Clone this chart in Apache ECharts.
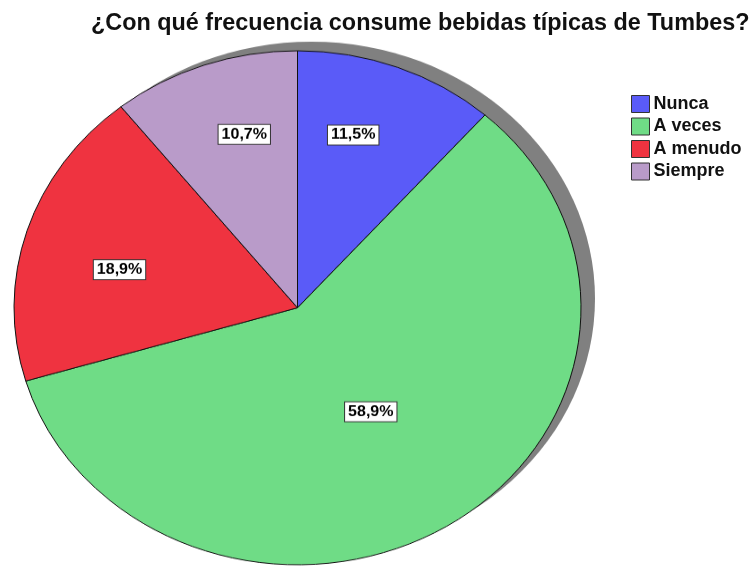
<!DOCTYPE html>
<html>
<head>
<meta charset="utf-8">
<script src="https://cdn.jsdelivr.net/npm/echarts@6/dist/echarts.min.js"></script>
<style>
  html, body { margin: 0; padding: 0; background: #fff; }
  #wrap { position: relative; width: 753px; height: 567px; overflow: hidden; }
  /* the reference pie is an ellipse, so the pie chart is squeezed vertically */
  #pie { position: absolute; left: 0; top: 0; width: 753px; height: 626px;
         transform: scaleY(0.9065); transform-origin: 0 0; }
  #top { position: absolute; left: 0; top: 0; width: 753px; height: 567px; }
</style>
</head>
<body>
<div id="wrap">
  <div id="pie"></div>
  <div id="top"></div>
</div>
<script>
const categories = ['Nunca', 'A veces', 'A menudo', 'Siempre']
const percents = [11.5, 58.9, 18.9, 10.7]
const colors = ['#5a5bf8', '#6fdc86', '#ef3340', '#b99bc9']
// label placement: share of the radius, and turn (deg) away from mid-angle
const labelReach = [0.70, 0.48, 0.645, 0.70]
const labelTurn = [-4.4, 0, -4.2, 3.7]

const font = "'Liberation Sans', Arial, sans-serif"
const cx = 297.5
const cy = 339.5
const radius = 283.5

const fmt = v => v.toFixed(1).replace('.', ',') + '%'

const pieData = categories.map((name, i) => ({
  name: name,
  value: percents[i],
  itemStyle: { color: colors[i] }
}))

const pieChart = echarts.init(document.getElementById('pie'), null, { renderer: 'canvas' })
pieChart.setOption({
  animation: false,
  series: [
    {
      // grey drop shadow behind the pie
      type: 'pie',
      silent: true,
      center: [cx + 14, cy - 10],
      radius: radius,
      label: { show: false },
      labelLine: { show: false },
      itemStyle: { color: '#808080', borderWidth: 0 },
      data: [{ name: 'shadow', value: 1 }]
    },
    {
      type: 'pie',
      center: [cx, cy],
      radius: radius,
      startAngle: 90,
      clockwise: true,
      itemStyle: { borderColor: '#111', borderWidth: 1 },
      label: {
        show: true,
        position: 'inside',
        formatter: p => fmt(p.value),
        fontFamily: font,
        fontWeight: 'bold',
        fontSize: 16,
        lineHeight: 18,
        color: '#000',
        backgroundColor: '#fff',
        borderColor: '#333',
        borderWidth: 1,
        padding: [2, 3, 1, 3]
      },
      labelLine: { show: false },
      labelLayout: params => {
        const r = params.labelRect
        const lx = r.x + r.width / 2
        const ly = r.y + r.height / 2
        const i = params.dataIndex
        const theta = Math.atan2(lx - cx, -(ly - cy)) + labelTurn[i] * Math.PI / 180
        const dist = labelReach[i] * radius
        const nx = cx + dist * Math.sin(theta)
        const ny = cy - dist * Math.cos(theta)
        return { dx: nx - lx, dy: ny - ly }
      },
      data: pieData
    }
  ]
})

const topChart = echarts.init(document.getElementById('top'), null, { renderer: 'canvas' })
topChart.setOption({
  animation: false,
  title: {
    text: '¿Con qué frecuencia consume bebidas típicas de Tumbes?',
    left: 86,
    top: 7,
    textStyle: { fontFamily: font, fontWeight: 'bold', fontSize: 23.4, color: '#111' }
  },
  legend: {
    orient: 'vertical',
    left: 626,
    top: 90,
    icon: 'rect',
    itemWidth: 18,
    itemHeight: 17,
    itemGap: 4.5,
    selectedMode: false,
    data: categories,
    itemStyle: { borderColor: '#333', borderWidth: 1 },
    textStyle: { fontFamily: font, fontWeight: 'bold', fontSize: 18, lineHeight: 17, color: '#111', padding: [0, 0, 0, -1] }
  },
  series: [
    {
      // only feeds the legend, drawn off-canvas
      type: 'pie',
      silent: true,
      center: [-100, -100],
      radius: 1,
      label: { show: false },
      data: pieData
    }
  ]
})
</script>
</body>
</html>
